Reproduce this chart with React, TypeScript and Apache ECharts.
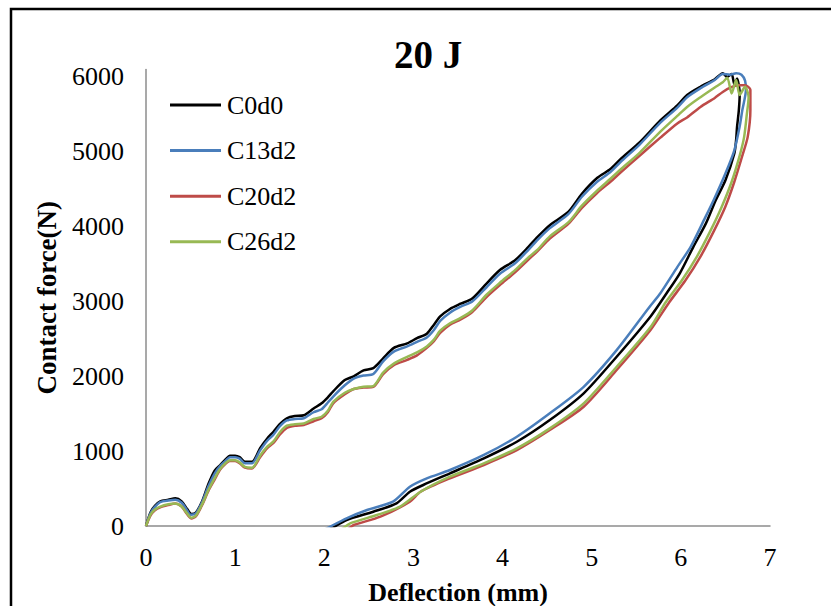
import React, { useEffect, useRef } from "react";
import * as echarts from "echarts";

const titleText = "20 J";
const xAxisName = "Deflection (mm)";
const yAxisName = "Contact force(N)";
const seriesNames = ["C0d0", "C13d2", "C20d2", "C26d2"];
const seriesColors = ["#000000", "#4A7EBB", "#BE4B48", "#98B954"];

// [deflection (mm), contact force (N)]
const c0d0: [number, number][] = [
  [0, 0], [0.05, 180], [0.1, 270], [0.16, 330], [0.25, 350], [0.33, 370], [0.4, 330], [0.46, 230],
  [0.51, 160], [0.56, 180], [0.63, 330], [0.7, 560], [0.77, 740], [0.83, 810], [0.9, 900], [0.94, 940],
  [1.0, 940], [1.05, 920], [1.11, 860], [1.19, 860], [1.28, 1040], [1.36, 1170], [1.43, 1260], [1.5, 1360],
  [1.58, 1440], [1.67, 1470], [1.77, 1480], [1.88, 1570], [1.97, 1640], [2.04, 1720], [2.1, 1800],
  [2.23, 1950], [2.33, 2000], [2.44, 2080], [2.55, 2110], [2.66, 2240], [2.78, 2380], [2.93, 2440],
  [3.04, 2510], [3.15, 2570], [3.23, 2690], [3.3, 2800], [3.41, 2900], [3.53, 2970], [3.66, 3040],
  [3.82, 3240], [3.97, 3420], [4.14, 3550], [4.29, 3730], [4.39, 3860], [4.53, 4020], [4.74, 4200],
  [4.89, 4440], [5.06, 4650], [5.21, 4770], [5.32, 4900], [5.54, 5130], [5.77, 5420], [5.96, 5620],
  [6.07, 5760], [6.22, 5870], [6.38, 5970], [6.47, 6050], [6.52, 6000], [6.57, 6040], [6.6, 5900],
  [6.63, 5980], [6.66, 5780], [6.65, 5550], [6.63, 5330], [6.62, 5160], [6.6, 4980], [6.5, 4620],
  [6.39, 4350], [6.28, 4040], [6.14, 3730], [5.99, 3380], [5.84, 3110], [5.66, 2800], [5.28, 2262],
  [4.91, 1773], [4.53, 1416], [4.16, 1126], [3.79, 904], [3.41, 704], [3.11, 548], [2.96, 458],
  [2.81, 303], [2.55, 191], [2.25, 80], [2.08, -31], [2.0, -80],
];

const c13d2: [number, number][] = [
  [0, 0], [0.05, 170], [0.1, 255], [0.16, 320], [0.25, 340], [0.33, 350], [0.4, 310], [0.46, 210],
  [0.5, 150], [0.56, 170], [0.63, 320], [0.7, 530], [0.77, 700], [0.83, 800], [0.9, 880], [0.94, 920],
  [1.0, 920], [1.05, 900], [1.11, 840], [1.19, 840], [1.28, 1010], [1.36, 1140], [1.43, 1220], [1.5, 1330],
  [1.58, 1410], [1.67, 1430], [1.77, 1440], [1.88, 1520], [1.97, 1560], [2.04, 1650], [2.1, 1730],
  [2.23, 1880], [2.33, 1970], [2.44, 2010], [2.55, 2030], [2.66, 2200], [2.78, 2330], [2.93, 2400],
  [3.04, 2460], [3.15, 2520], [3.23, 2620], [3.3, 2740], [3.41, 2850], [3.53, 2930], [3.66, 3000],
  [3.82, 3190], [3.97, 3370], [4.14, 3510], [4.29, 3690], [4.39, 3820], [4.53, 3980], [4.74, 4170],
  [4.89, 4400], [5.06, 4600], [5.21, 4730], [5.32, 4860], [5.54, 5100], [5.77, 5390], [5.96, 5590],
  [6.07, 5730], [6.22, 5850], [6.38, 5960], [6.47, 6040], [6.55, 6030], [6.62, 6050], [6.68, 6030],
  [6.72, 5950], [6.73, 5830], [6.69, 5560], [6.66, 5340], [6.6, 5020], [6.5, 4710], [6.37, 4360],
  [6.26, 4090], [6.11, 3730], [5.96, 3460], [5.77, 3110], [5.65, 2930], [5.28, 2350], [4.91, 1860],
  [4.53, 1506], [4.16, 1193], [3.79, 949], [3.41, 748], [3.15, 637], [2.96, 525], [2.77, 325],
  [2.48, 214], [2.25, 103], [2.03, -31], [1.95, -80],
];

const c20d2: [number, number][] = [
  [0, 0], [0.05, 140], [0.1, 210], [0.16, 250], [0.25, 280], [0.33, 300], [0.4, 260], [0.46, 160],
  [0.51, 100], [0.56, 130], [0.63, 280], [0.7, 470], [0.77, 620], [0.83, 750], [0.9, 840], [0.94, 870],
  [1.0, 870], [1.05, 840], [1.11, 780], [1.19, 770], [1.28, 920], [1.36, 1040], [1.43, 1110], [1.5, 1220],
  [1.58, 1310], [1.67, 1340], [1.77, 1350], [1.88, 1400], [1.97, 1440], [2.04, 1520], [2.1, 1640],
  [2.23, 1760], [2.33, 1830], [2.44, 1850], [2.55, 1860], [2.66, 2030], [2.78, 2150], [2.93, 2220],
  [3.04, 2280], [3.15, 2380], [3.23, 2470], [3.3, 2580], [3.41, 2690], [3.53, 2760], [3.66, 2860],
  [3.82, 3060], [3.97, 3220], [4.14, 3390], [4.29, 3560], [4.39, 3670], [4.53, 3840], [4.74, 4040],
  [4.89, 4250], [5.06, 4450], [5.21, 4600], [5.32, 4720], [5.54, 4950], [5.77, 5190], [5.96, 5380],
  [6.07, 5460], [6.22, 5600], [6.38, 5720], [6.47, 5800], [6.56, 5860], [6.65, 5890], [6.72, 5890],
  [6.78, 5830], [6.78, 5560], [6.75, 5200], [6.69, 4950], [6.6, 4600], [6.5, 4270], [6.37, 3940],
  [6.22, 3600], [6.05, 3280], [5.87, 2990], [5.66, 2619], [5.28, 2084], [4.91, 1594], [4.53, 1283],
  [4.16, 1015], [3.79, 815], [3.41, 637], [3.08, 458], [2.96, 325], [2.63, 124], [2.33, 13],
  [2.28, -31], [2.2, -80],
];

const c26d2: [number, number][] = [
  [0, 0], [0.05, 150], [0.1, 220], [0.16, 260], [0.25, 290], [0.33, 300], [0.4, 260], [0.46, 170],
  [0.51, 110], [0.56, 140], [0.63, 290], [0.7, 480], [0.77, 640], [0.83, 760], [0.9, 850], [0.94, 880],
  [1.0, 880], [1.05, 850], [1.11, 790], [1.19, 780], [1.28, 940], [1.36, 1060], [1.43, 1130], [1.5, 1250],
  [1.58, 1340], [1.67, 1360], [1.77, 1370], [1.88, 1430], [1.97, 1460], [2.04, 1540], [2.1, 1660],
  [2.23, 1780], [2.33, 1830], [2.44, 1860], [2.55, 1870], [2.66, 2050], [2.78, 2170], [2.93, 2260],
  [3.04, 2320], [3.15, 2400], [3.23, 2490], [3.3, 2610], [3.41, 2710], [3.53, 2780], [3.66, 2880],
  [3.82, 3090], [3.97, 3250], [4.14, 3420], [4.29, 3590], [4.39, 3690], [4.53, 3870], [4.74, 4060],
  [4.89, 4280], [5.06, 4480], [5.21, 4640], [5.32, 4760], [5.54, 4990], [5.77, 5270], [5.96, 5480],
  [6.07, 5600], [6.22, 5730], [6.38, 5860], [6.47, 5930], [6.52, 5990], [6.57, 5780], [6.62, 5960],
  [6.66, 5760], [6.72, 5870], [6.76, 5730], [6.74, 5500], [6.71, 5200], [6.66, 4950], [6.57, 4600],
  [6.46, 4270], [6.33, 3940], [6.18, 3600], [6.01, 3280], [5.83, 2990], [5.66, 2660], [5.28, 2128],
  [4.91, 1639], [4.53, 1305], [4.16, 1038], [3.79, 837], [3.41, 659], [3.08, 458], [2.85, 258],
  [2.59, 147], [2.29, 36], [2.21, -31], [2.15, -80],
];

const seriesData = [c0d0, c13d2, c20d2, c26d2];

const FONT = "'Liberation Serif', 'Times New Roman', serif";

export default function App() {
  const ref = useRef<HTMLDivElement>(null);
  useEffect(() => {
    if (!ref.current) return;
    const chart = echarts.init(ref.current, undefined, { renderer: "svg" });
    chart.setOption({
      animation: false,
      backgroundColor: "#ffffff",
      textStyle: { fontFamily: FONT },
      title: {
        text: titleText,
        left: 389,
        top: 30,
        textStyle: { fontFamily: FONT, fontSize: 39, fontWeight: "bold", color: "#000" },
      },
      legend: {
        orient: "vertical",
        left: 165,
        top: 87,
        icon: "rect",
        itemWidth: 51,
        itemHeight: 3,
        itemGap: 19.6,
        data: seriesNames,
        textStyle: { fontFamily: FONT, fontSize: 26, color: "#000", lineHeight: 26, padding: [0, 0, 0, 1] },
      },
      grid: {
        left: 146,
        right: 61,
        top: 69.5,
        bottom: 80,
        containLabel: false,
        outerBoundsMode: "none",
      },
      xAxis: {
        type: "value",
        min: 0,
        max: 7,
        interval: 1,
        name: xAxisName,
        nameLocation: "middle",
        nameGap: 53,
        nameTextStyle: { fontFamily: FONT, fontSize: 26, fontWeight: "bold", color: "#000" },
        axisLine: { show: true, onZero: false, lineStyle: { color: "#8c8c8c", width: 1.5 } },
        axisTick: { show: false },
        splitLine: { show: false },
        axisLabel: { fontFamily: FONT, fontSize: 26, color: "#000", margin: 18 },
      },
      yAxis: {
        type: "value",
        min: 0,
        max: 6100,
        interval: 1000,
        name: yAxisName,
        nameLocation: "middle",
        nameGap: 86,
        nameTextStyle: { fontFamily: FONT, fontSize: 27, fontWeight: "bold", color: "#000" },
        axisLine: { show: true, lineStyle: { color: "#8c8c8c", width: 1.5 } },
        axisTick: { show: false },
        splitLine: { show: false },
        axisLabel: {
          fontFamily: FONT,
          fontSize: 26,
          color: "#000",
          margin: 22,
          formatter: (v: number) => (v % 1000 === 0 ? String(v) : ""),
        },
      },
      graphic: [
        {
          type: "rect",
          shape: { x: 11, y: 9, width: 900, height: 700 },
          style: { fill: "none", stroke: "#000", lineWidth: 2.5 },
          silent: true,
        },
      ],
      series: seriesNames.map((name, i) => ({
        name,
        type: "line",
        data: seriesData[i],
        symbol: "none",
        smooth: 0.25,
        clip: true,
        color: seriesColors[i],
        lineStyle: { color: seriesColors[i], width: 2.5 },
      })),
    });
    return () => chart.dispose();
  }, []);
  return (
    <div
      ref={ref}
      style={{ position: "absolute", left: 0, top: 0, width: 831, height: 606 }}
    />
  );
}
